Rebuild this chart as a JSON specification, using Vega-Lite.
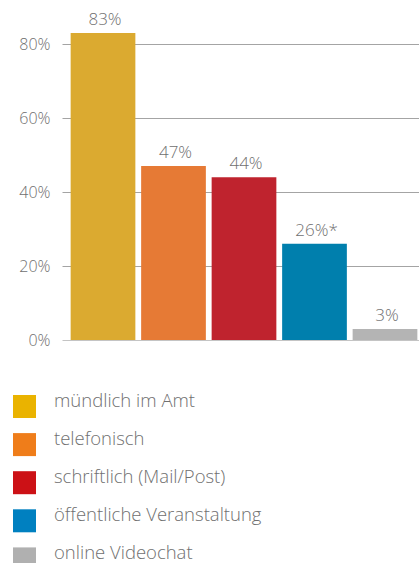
{
  "$schema": "https://vega.github.io/schema/vega-lite/v6.json",
  "width": 357,
  "height": 333,
  "autosize": {"type": "none"},
  "padding": {"left": 62, "top": 7, "right": 0, "bottom": 223},
  "background": "white",
  "config": {"view": {"stroke": null}, "font": "Open Sans"},
  "data": {"values": [
    {"cat": "mündlich im Amt", "value": 83, "label": "83%"},
    {"cat": "telefonisch", "value": 47, "label": "47%"},
    {"cat": "schriftlich (Mail/Post)", "value": 44, "label": "44%"},
    {"cat": "öffentliche Veranstaltung", "value": 26, "label": "26%*"},
    {"cat": "online Videochat", "value": 3, "label": "3%"}
  ]},
  "encoding": {
    "x": {"field": "cat", "type": "nominal", "sort": null,
      "scale": {"paddingInner": 0.082, "paddingOuter": 0.073, "align": 0.84},
      "axis": {"labels": false, "ticks": false, "title": null, "domain": false}},
    "y": {"field": "value", "type": "quantitative",
      "scale": {"domain": [0, 90], "nice": false},
      "axis": {"values": [0, 20, 40, 60, 80], "labelExpr": "datum.value + '%'", "title": null,
        "domain": false, "ticks": false, "labelPadding": 12, "labelFontSize": 16, "labelColor": "#707070",
        "labelFont": "Open Sans", "labelFontWeight": 300,
        "gridColor": {"condition": {"test": "datum.value === 0", "value": "#c4c4c4"}, "value": "#a4a4a4"},
        "gridWidth": 1}}
  },
  "layer": [
    {
      "mark": {"type": "point", "shape": "square", "filled": true, "opacity": 0, "size": 1},
      "encoding": {
        "color": {"field": "cat", "type": "nominal",
          "scale": {"domain": ["mündlich im Amt", "telefonisch", "schriftlich (Mail/Post)", "öffentliche Veranstaltung", "online Videochat"],
            "range": ["#EAB300", "#EF7D1A", "#CC1116", "#0080C0", "#B0B0B0"]},
          "legend": {"orient": "none", "legendX": -49, "legendY": 388, "title": null, "padding": 0,
            "symbolType": "square", "symbolSize": 529, "symbolOpacity": 1, "symbolStrokeWidth": 0,
            "rowPadding": 11.1, "labelOffset": 18, "labelFontSize": 18.5, "labelColor": "#707070",
            "labelFont": "Open Sans", "labelFontWeight": 300, "labelLimit": 400,
            "labelBaseline": "alphabetic"}}
      }
    },
    {
      "mark": {"type": "bar"},
      "encoding": {
        "color": {"field": "cat", "type": "nominal",
          "scale": {"domain": ["mündlich im Amt", "telefonisch", "schriftlich (Mail/Post)", "öffentliche Veranstaltung", "online Videochat"],
            "range": ["#DBAA30", "#E67A35", "#BF232E", "#007FAD", "#B4B4B4"]},
          "legend": null}
      }
    },
    {
      "mark": {"type": "text", "baseline": "alphabetic", "dy": -8, "dx": 2, "fontSize": 17, "fontWeight": 300, "color": "#707070", "font": "Open Sans"},
      "encoding": {"text": {"field": "label"}}
    }
  ],
  "resolve": {"scale": {"color": "independent"}}
}
